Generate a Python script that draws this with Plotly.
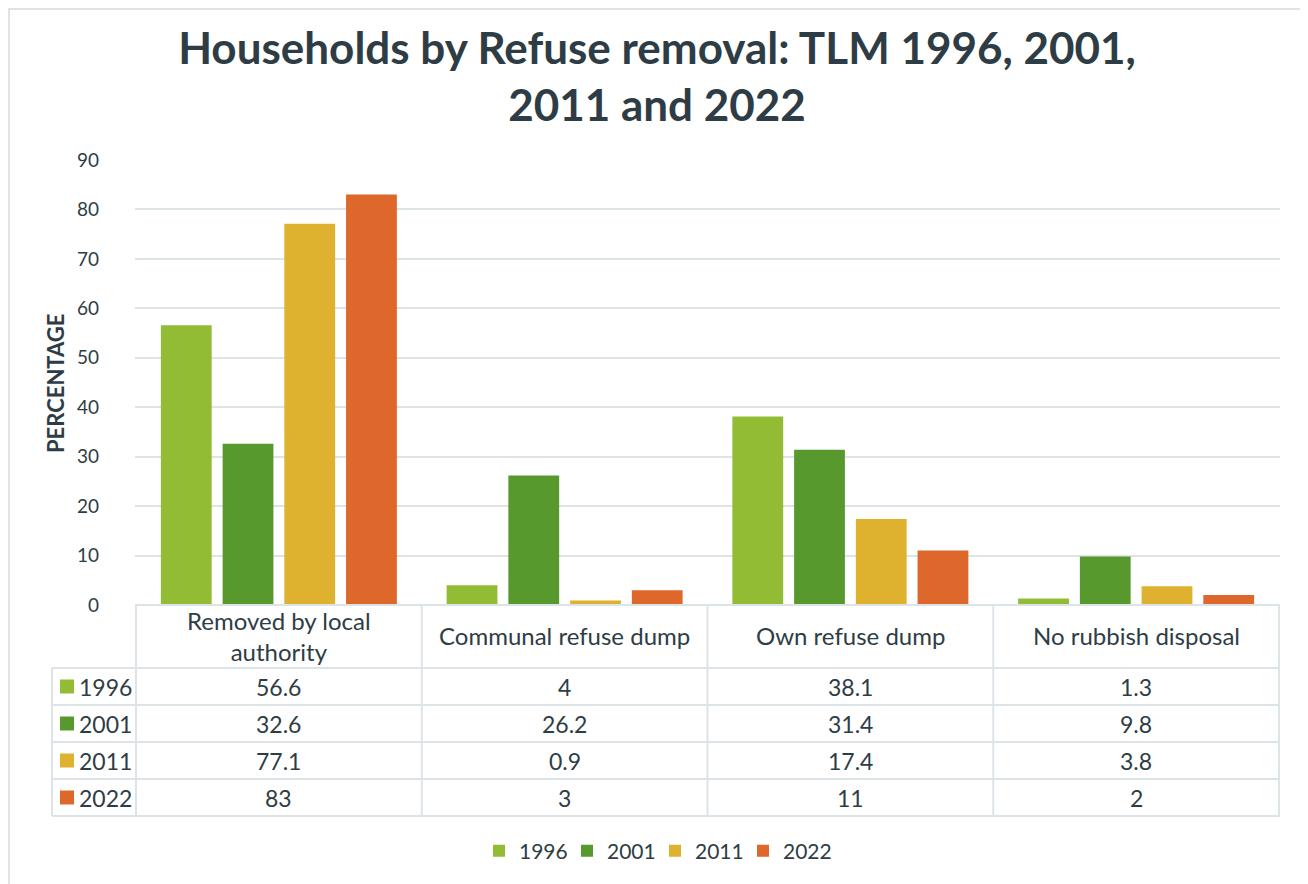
import plotly.graph_objects as go

categories = ["Removed by local authority", "Communal refuse dump", "Own refuse dump", "No rubbish disposal"]
category_labels = ["Removed by local<br>authority", "Communal refuse dump", "Own refuse dump", "No rubbish disposal"]
years = ["1996", "2001", "2011", "2022"]
v1996 = [56.6, 4, 38.1, 1.3]
v2001 = [32.6, 26.2, 31.4, 9.8]
v2011 = [77.1, 0.9, 17.4, 3.8]
v2022 = [83, 3, 11, 2]
series = [v1996, v2001, v2011, v2022]
colors = ["#91BC34", "#57992C", "#DEB12E", "#DE672B"]
yticks = [0, 10, 20, 30, 40, 50, 60, 70, 80, 90]

OFF = 8  # page body margin
W, H = 1308 - OFF, 884 - OFF
# plot area in page pixels
PL, PR, PT, PB = 135, 1280, 160, 605
TXT = "#2E3D45"
GRID = "#DCE4E8"
FONT = "Lato"


def px(x):
    return (x - PL) / (PR - PL)


def py(y):
    return (PB - y) / (PB - PT)


fig = go.Figure()
for yr, vals, c in zip(years, series, colors):
    fig.add_trace(go.Bar(name=yr, x=categories, y=vals, marker=dict(color=c, line=dict(width=0))))

shapes = []
annotations = []

# outer border (left & top visible)
shapes.append(dict(type="rect", xref="paper", yref="paper", x0=px(OFF + 1), x1=px(1330), y0=py(910),
                   y1=py(OFF + 1), line=dict(color=GRID, width=2), fillcolor="rgba(0,0,0,0)", layer="below"))

header_bottom = 668
row_edges = [668, 705, 742, 779, 816]
shapes.append(dict(type="line", xref="paper", yref="paper", x0=0, x1=1, y0=py(PB), y1=py(PB),
                   line=dict(color=GRID, width=2)))
for ry in row_edges:
    shapes.append(dict(type="line", xref="paper", yref="paper", x0=px(52), x1=1, y0=py(ry), y1=py(ry),
                       line=dict(color=GRID, width=2)))
for i in range(len(categories) + 1):
    shapes.append(dict(type="line", xref="x", yref="paper", x0=i - 0.5, x1=i - 0.5, y0=py(PB), y1=py(816),
                       line=dict(color=GRID, width=2)))
shapes.append(dict(type="line", xref="paper", yref="paper", x0=px(52), x1=px(52), y0=py(668), y1=py(816),
                   line=dict(color=GRID, width=2)))

for i, lab in enumerate(category_labels):
    annotations.append(dict(xref="x", yref="paper", x=i, y=py((PB + header_bottom) / 2 - 1), text=lab,
                            showarrow=False, font=dict(size=24, color=TXT, family=FONT),
                            xanchor="center", yanchor="middle", align="center"))

for r, (yr, vals, c) in enumerate(zip(years, series, colors)):
    yc = (row_edges[r] + row_edges[r + 1]) / 2
    shapes.append(dict(type="rect", xref="paper", yref="paper", x0=px(60), x1=px(74),
                       y0=py(yc + 7), y1=py(yc - 7), fillcolor=c, line=dict(width=0)))
    annotations.append(dict(xref="paper", yref="paper", x=px(77), y=py(yc), text=yr, showarrow=False,
                            font=dict(size=23, color=TXT, family=FONT), xanchor="left", yanchor="middle"))
    for i, v in enumerate(vals):
        annotations.append(dict(xref="x", yref="paper", x=i, y=py(yc), text=f"{v:g}", showarrow=False,
                                font=dict(size=23, color=TXT, family=FONT), xanchor="center", yanchor="middle"))

annotations.append(dict(xref="paper", yref="paper", x=px(55), y=py(384), text="<b>PERCENTAGE</b>",
                        textangle=-90, showarrow=False, font=dict(size=22, color=TXT, family=FONT),
                        xanchor="center", yanchor="middle"))

fig.update_layout(
    width=W, height=H,
    margin=dict(l=PL - OFF, r=W - (PR - OFF), t=PT - OFF, b=H - (PB - OFF), pad=0),
    paper_bgcolor="white", plot_bgcolor="white",
    title=dict(text="<b>Households by Refuse removal: TLM 1996, 2001,<br>2011 and 2022</b>",
               x=(657 - OFF) / W, xanchor="center", y=1 - (64 - OFF) / H, yanchor="middle",
               font=dict(size=44, color=TXT, family=FONT)),
    barmode="group", bargap=0.136, bargroupgap=0.177,
    xaxis=dict(showticklabels=False, showgrid=False, zeroline=False, showline=False, ticks=""),
    yaxis=dict(range=[0, 90], tickvals=yticks, showgrid=True, gridcolor=GRID, gridwidth=2,
               zeroline=False, showline=False, ticks="", ticklabelstandoff=35,
               tickfont=dict(size=19, color=TXT, family=FONT)),
    showlegend=True,
    legend=dict(orientation="h", xref="paper", yref="paper", x=px(655), y=py(851), xanchor="center",
                yanchor="middle", font=dict(size=21, color=TXT, family=FONT), itemwidth=30,
                entrywidth=43, traceorder="normal"),
    shapes=shapes, annotations=annotations,
)

fig.write_html("out.html")
